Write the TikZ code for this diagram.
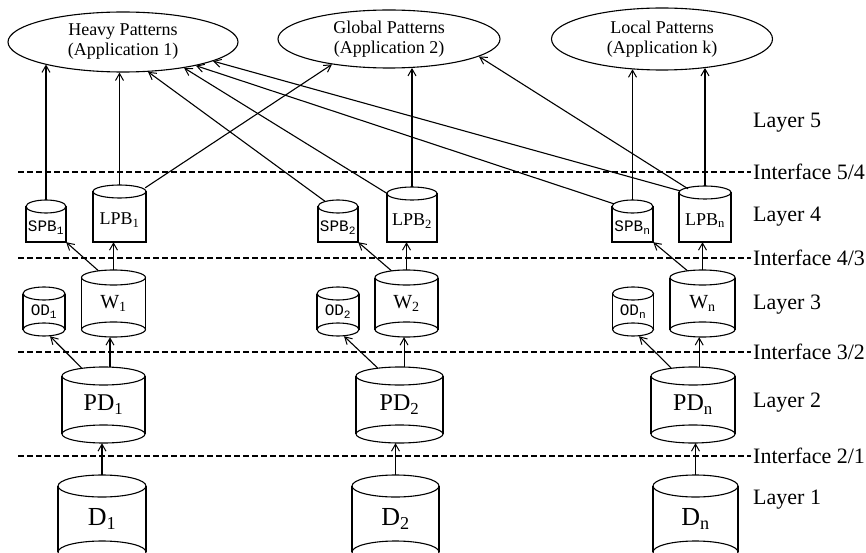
\documentclass[tikz,border=0pt]{standalone}
\usepackage{fontspec}
\setmainfont{Liberation Serif}
\setmonofont{Liberation Mono}
\usetikzlibrary{arrows.meta,shapes.geometric,calc}

\tikzset{
  ln/.style={line width=1.1pt, black},
  arr/.style={ln, -{Straight Barb[length=7pt,width=8pt,line width=1pt]}},
  iface/.style={line width=1.3pt, dash pattern=on 6pt off 3pt},
  app/.style={ellipse, draw, line width=1.1pt, inner sep=0pt, font=\fontsize{18}{20}\selectfont, align=center},
  lay/.style={anchor=west, font=\fontsize{22}{24}\selectfont, inner sep=0pt},
  cylbox/.style={inner sep=0pt, draw=none},
  fD/.style={font=\fontsize{26}{28}\selectfont},
  fPD/.style={font=\fontsize{24}{26}\selectfont},
  fW/.style={font=\fontsize{20}{22}\selectfont},
  fLPB/.style={font=\fontsize{18}{20}\selectfont},
  fS/.style={font=\fontsize{16}{18}\selectfont\ttfamily},
}

% round-bottom cylinder: name, cx, top, bottom, half width, ry, font style, label
\newcommand\mycylR[8]{%
  \node[cylbox, minimum width={2*#5pt}, minimum height={(#4-#3)*1pt}] (#1) at (#2,{(#3+#4)/2}) {};
  \draw[ln] (#2,#3+#6) ellipse [x radius=#5pt, y radius=#6pt];
  \draw[ln] (#2-#5,#3+#6) -- (#2-#5,#4-#6) (#2+#5,#3+#6) -- (#2+#5,#4-#6);
  \draw[ln] (#2,#4-#6) ellipse [x radius=#5pt, y radius=#6pt];
  \node[inner sep=0pt, #7] (#1-t) at (#2,{(#3+#4)/2}) {#8};
}
% flat-bottom cylinder
\newcommand\mycylF[8]{%
  \node[cylbox, minimum width={2*#5pt}, minimum height={(#4-#3)*1pt}] (#1) at (#2,{(#3+#4)/2}) {};
  \draw[ln] (#2,#3+#6) ellipse [x radius=#5pt, y radius=#6pt];
  \draw[ln] (#2-#5,#3+#6) -- (#2-#5,#4) -- (#2+#5,#4) -- (#2+#5,#3+#6);
  \node[inner sep=0pt, #7] (#1-t) at (#2,{(#3+2*#6+#4)/2}) {#8};
}

\begin{document}
\begin{tikzpicture}[x=1pt, y=-1pt]
\useasboundingbox (0,0) rectangle (866,553);
\clip (0,0) rectangle (866,553);

% application ellipses
\node[app, minimum width=230pt, minimum height=60pt] (H) at (123,42) {Heavy Patterns\\(Application 1)};
\node[app, minimum width=222pt, minimum height=58pt] (G) at (389,39) {Global Patterns\\(Application 2)};
\node[app, minimum width=221pt, minimum height=62pt] (L) at (662,39) {Local Patterns\\(Application k)};

% layer and interface labels
\node[lay] (L5) at (753,123) {Layer 5};
\node[lay] (L4) at (753,217) {Layer 4};
\node[lay] (L3) at (753,305) {Layer 3};
\node[lay] (L2) at (753,403) {Layer 2};
\node[lay] (L1) at (753,500) {Layer 1};
\node[lay] (I54) at (753,172) {Interface 5/4};
\node[lay] (I43) at (753,258) {Interface 4/3};
\node[lay] (I32) at (753,352) {Interface 3/2};
\node[lay] (I21) at (753,456) {Interface 2/1};
\draw[iface, shorten >=2pt] (18,172) -- (I54.west);
\draw[iface, shorten >=2pt] (18,258) -- (I43.west);
\draw[iface, shorten >=2pt] (18,352) -- (I32.west);
\draw[iface, shorten >=2pt] (18,456) -- (I21.west);

% layer 4
\mycylF{SPB1}{46}{200}{242}{20}{6.5}{fS}{SPB\textsubscript{1}}
\mycylF{LPB1}{119.5}{185}{242}{26.5}{6.5}{fLPB}{LPB\textsubscript{1}}
\mycylF{SPB2}{338}{200}{242}{20}{6.5}{fS}{SPB\textsubscript{2}}
\mycylF{LPB2}{412}{187}{242}{25}{6.5}{fLPB}{LPB\textsubscript{2}}
\mycylF{SPBn}{632.5}{200}{242}{20.5}{6.5}{fS}{SPB\textsubscript{n}}
\mycylF{LPBn}{705}{186}{242}{26}{6.5}{fLPB}{LPB\textsubscript{n}}

% layer 3
\mycylR{OD1}{44}{287}{336}{21}{6.5}{fS}{OD\textsubscript{1}}
\mycylR{W1}{113.5}{270}{337}{32}{7.5}{fW}{W\textsubscript{1}}
\mycylR{OD2}{338}{287}{336}{21}{6.5}{fS}{OD\textsubscript{2}}
\mycylR{W2}{406.5}{270}{337}{31.5}{7.5}{fW}{W\textsubscript{2}}
\mycylR{ODn}{633}{287}{336}{20.5}{6.5}{fS}{OD\textsubscript{n}}
\mycylR{Wn}{702.5}{270}{337}{32.5}{7.5}{fW}{W\textsubscript{n}}

% layer 2
\mycylR{PD1}{103.5}{367}{443}{41.5}{9}{fPD}{PD\textsubscript{1}}
\mycylR{PD2}{399.5}{367}{443}{43.5}{9}{fPD}{PD\textsubscript{2}}
\mycylR{PDn}{693}{367}{443}{42}{9}{fPD}{PD\textsubscript{n}}

% layer 1
\mycylR{D1}{102}{475}{563}{44}{11}{fD}{D\textsubscript{1}}
\mycylR{D2}{395.5}{475}{563}{43.5}{11}{fD}{D\textsubscript{2}}
\mycylR{Dn}{695.5}{475}{563}{42.5}{11}{fD}{D\textsubscript{n}}

% layers 1 -> 4
\foreach \i in {1,2,n}{
  \coordinate (m\i) at ($(PD\i.north)!0.65!(W\i.south)$);
  \draw[arr] (D\i.north) -- (D\i.north |- PD\i.south);
  \draw[arr] (m\i |- PD\i.north) -- (m\i |- W\i.south);
  \draw[arr] ($(PD\i.north)+(-22,1)$) -- ($(OD\i.south)+(6,0)$);
  \draw[arr] (W\i.north) -- (W\i.north |- LPB\i.south);
  \draw[arr] ($(W\i.north)+(-15,1)$) -- (SPB\i.south east);
}

% layer 4 -> applications
\draw[arr] (SPB1.north) -- (SPB1.north |- H.196.2);
\draw[arr] (LPB1.north) -- (LPB1.north |- H.263.3);
\draw[arr] ($(LPB1.north east)+(-1,3)$) -- (G.204.1);
\draw[arr] ($(SPB2.north)+(-13,1.5)$) -- (H.310.5);
\draw[arr] ($(LPB2.north west)+(0,6.5)$) -- (H.337.8);
\draw[arr] (LPB2.north) -- (LPB2.north |- G.309);
\draw[arr] ($(SPBn.north west)+(2,4)$) -- (H.342.7);
\draw[arr] ($(LPBn.north west)+(1,5)$) -- (H.348.3);
\draw[arr] ($(LPBn.north)+(-17,3)$) -- (G.349.8);
\draw[arr] (SPBn.north) -- (SPBn.north |- L.224.8);
\draw[arr] (LPBn.north) -- (LPBn.north |- L.327.2);
\end{tikzpicture}
\end{document}
